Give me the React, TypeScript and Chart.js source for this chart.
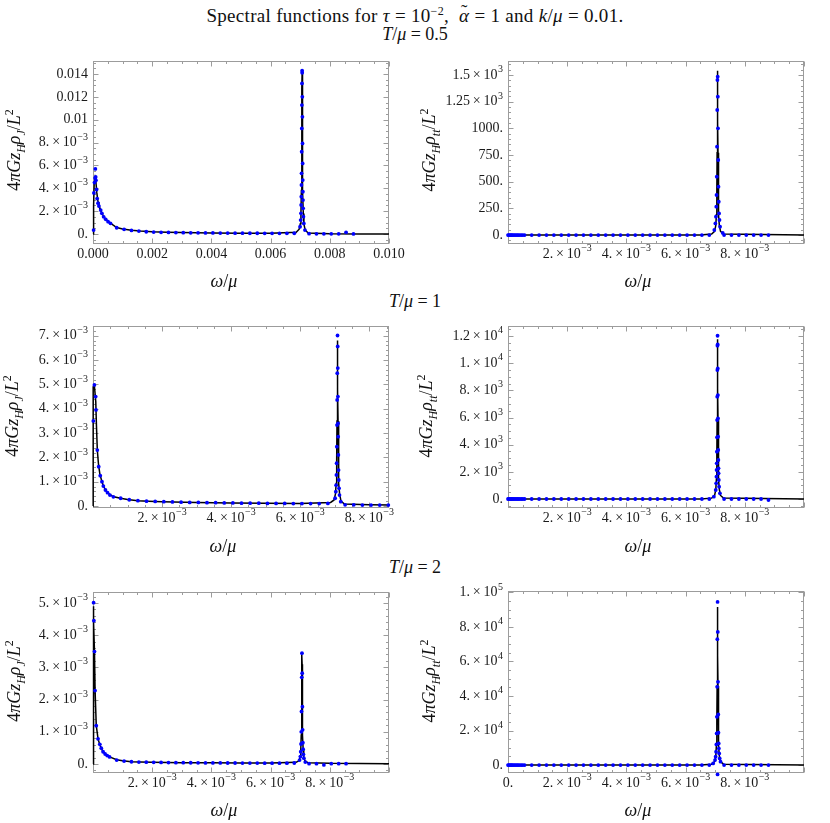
import React, { useEffect, useRef } from "react";
import { Chart, registerables } from "chart.js";

Chart.register(...registerables);

const SERIF = "'Liberation Serif', 'Times New Roman', Times, serif";

// ---------- shared frequency grids (omega / mu) ----------
const omegaMid = [0.0008, 0.00105, 0.0013, 0.00155, 0.0018, 0.00205, 0.0023, 0.00255, 0.0028, 0.00305, 0.0033, 0.00355, 0.0038, 0.00405, 0.0043, 0.00455, 0.0048, 0.00505, 0.0053, 0.00555, 0.0058, 0.00605, 0.0063, 0.00655, 0.0068];
const omegaHigh = [0.0073, 0.00755, 0.0078, 0.00805, 0.0083, 0.00855, 0.0088];
const omegaLowTT = [0, 0.00003, 0.00006, 0.00009, 0.00012, 0.00015, 0.00019, 0.00023, 0.00027, 0.00031, 0.00035, 0.0004, 0.00045, 0.0005, 0.00056];

// ---------- T/mu = 0.5, rho_J ----------
const j05LineX = [0, 0.00002, 0.00004, 0.00007, 0.0001, 0.00013, 0.00017, 0.0002, 0.00026, 0.0003, 0.0004, 0.0005, 0.0006, 0.0008, 0.001, 0.0013, 0.0016, 0.002, 0.0025, 0.003, 0.004, 0.005, 0.006, 0.006865, 0.006965, 0.007005, 0.007025, 0.00704, 0.00705, 0.007055, 0.00706, 0.007065, 0.00707, 0.007075, 0.00708, 0.00709, 0.007105, 0.007125, 0.007165, 0.007265, 0.008, 0.009, 0.01];
const j05LineY = [0, 0.0025, 0.0044, 0.0049, 0.0045, 0.0036, 0.0028, 0.0025, 0.0021, 0.0018, 0.0014, 0.0011, 0.00093, 0.00057, 0.00044, 0.00033, 0.00026, 0.0002, 0.00016, 0.00013, 0.0001, 0.00008, 0.00006, 0.00015, 0.00042, 0.00091, 0.0018, 0.0038, 0.0071, 0.0098, 0.0128, 0.0142, 0.0128, 0.0098, 0.0071, 0.0038, 0.0018, 0.00088, 0.00038, 0.0001, 0.00002, 0.00001, 0.00001];
const j05LowX = [0.00002, 0.00003, 0.00005, 0.00007, 0.00008, 0.00009, 0.0001, 0.00012, 0.00014, 0.00017, 0.0002, 0.00026, 0.0003, 0.00036, 0.00043, 0.00051, 0.00059];
const j05LowY = [0.00035, 0.0036, 0.0045, 0.0049, 0.0057, 0.005, 0.0047, 0.0039, 0.0031, 0.0027, 0.00245, 0.0021, 0.00181, 0.00151, 0.00129, 0.00108, 0.00094];
const j05MidY = [0.00055, 0.00041, 0.00032, 0.00026, 0.0002, 0.000175, 0.00015, 0.00014, 0.00013, 0.00012, 0.00011, 0.000105, 0.0001, 0.000095, 0.00009, 0.000085, 0.00008, 0.000075, 0.00007, 0.00007, 0.000065, 0.00006, 0.00006, 0.00006, 0.00007];
const j05PeakX = [0.007065, 0.0070665, 0.0070605, 0.0070715, 0.007057, 0.0070745, 0.007054, 0.0070785, 0.00705, 0.007082, 0.0070455, 0.0070865, 0.007042, 0.0070905, 0.0070375, 0.0070945, 0.0070325, 0.0070995, 0.007026, 0.0071085, 0.007016, 0.007122, 0.006996, 0.00716];
const j05PeakY = [0.01429, 0.01411, 0.01318, 0.01201, 0.01128, 0.01026, 0.00924, 0.00793, 0.0072, 0.00618, 0.00531, 0.00472, 0.00429, 0.0037, 0.00327, 0.00297, 0.00254, 0.00225, 0.00181, 0.00152, 0.00122, 0.00093, 0.00064, 0.00035];
const j05HighY = [0.00003, 0.00002, 0.00002, 0.00002, 0.00002, 0.00015, 0.00001];

// ---------- T/mu = 0.5, rho_tt ----------
const tt05LineX = [0, 0.0065, 0.00688, 0.00698, 0.00702, 0.00704, 0.007055, 0.007065, 0.00707, 0.007075, 0.00708, 0.007085, 0.00709, 0.007095, 0.007105, 0.00712, 0.00714, 0.00718, 0.00728, 0.01];
const tt05LineY = [0, 0, 9, 34, 90, 190, 408, 770, 1066, 1386, 1540, 1386, 1066, 770, 408, 190, 90, 34, 9, 0];
const tt05LowY = [0, 0, 0, 0, 0, 0, 0, 0, 0, 0, 0, 0, 0, 0, 0];
const tt05MidY = [0, 0, 0, 0, 0, 0, 0, 0, 0, 0, 0, 0, 0, 0, 0, 0, 0, 0, 0, 0, 0, 0, 0, 0, 0];
const tt05PeakX = [0.007084, 0.007075, 0.0070885, 0.007069, 0.0070945, 0.0070615, 0.007102, 0.007053, 0.007111, 0.007045, 0.00712, 0.0070365, 0.00713, 0.007025, 0.007145, 0.007005, 0.007165, 0.00697, 0.007255];
const tt05PeakY = [1484, 1453, 1297, 1172, 1000, 828, 703, 547, 453, 375, 312, 266, 203, 172, 141, 109, 78, 47, 20];
const tt05HighY = [0, 0, 0, 0, 0, 0, 0];

// ---------- T/mu = 1, rho_J ----------
const j1LineX = [0, 0.000005, 0.00004, 0.00008, 0.0001, 0.000125, 0.00016, 0.0002, 0.00026, 0.0003, 0.00036, 0.00042, 0.0005, 0.0006, 0.0008, 0.001, 0.0013, 0.0016, 0.002, 0.003, 0.004, 0.005, 0.006, 0.00688, 0.00698, 0.00702, 0.00704, 0.007055, 0.007065, 0.00707, 0.007075, 0.00708, 0.007085, 0.00709, 0.007095, 0.007105, 0.00712, 0.00714, 0.00718, 0.00728, 0.008, 0.0086];
const j1LineY = [0, 0.0049, 0.00495, 0.0043, 0.0033, 0.0023, 0.0017, 0.0013, 0.001, 0.00083, 0.00067, 0.00055, 0.00046, 0.00038, 0.00032, 0.00027, 0.00022, 0.0002, 0.00018, 0.00015, 0.00013, 0.00012, 0.00011, 0.00015, 0.00025, 0.0005, 0.00093, 0.0019, 0.0035, 0.0048, 0.0062, 0.0068, 0.0062, 0.0048, 0.0035, 0.0019, 0.00093, 0.0005, 0.0002, 0.00008, 0.00005, 0.00004];
const j1LowX = [0.00001, 0.00004, 0.000078, 0.000087, 0.000125, 0.000165, 0.00021, 0.00026, 0.0003, 0.00036, 0.00042, 0.00049, 0.00059];
const j1LowY = [0.0035, 0.00498, 0.0045, 0.00395, 0.0023, 0.00162, 0.00125, 0.001, 0.00082, 0.00066, 0.00055, 0.00045, 0.00038];
const j1MidY = [0.00032, 0.00026, 0.00022, 0.0002, 0.00019, 0.00018, 0.00017, 0.00016, 0.00015, 0.00015, 0.00014, 0.00014, 0.00013, 0.00013, 0.00012, 0.00012, 0.00012, 0.00011, 0.00011, 0.00011, 0.0001, 0.0001, 0.0001, 0.0001, 0.00011];
const j1PeakX = [0.00708, 0.007084, 0.0070875, 0.007072, 0.007091, 0.0070685, 0.0070955, 0.0070645, 0.007098, 0.0070595, 0.007103, 0.007054, 0.007109, 0.007048, 0.0071155, 0.00704, 0.007124, 0.0070305, 0.007137, 0.007011, 0.007173];
const j1PeakY = [0.00701, 0.00656, 0.00567, 0.00546, 0.0045, 0.00436, 0.0034, 0.00333, 0.00285, 0.00244, 0.0021, 0.00176, 0.00148, 0.00128, 0.00107, 0.00086, 0.00073, 0.00059, 0.00045, 0.00032, 0.00018];
const j1HighY = [0.00005, 0.00005, 0.00004, 0.00004, 0.00004, 0.00004];

// ---------- T/mu = 1, rho_tt ----------
const tt1LineX = [0, 0.0065, 0.00688, 0.00698, 0.00702, 0.00704, 0.007055, 0.007065, 0.00707, 0.007075, 0.00708, 0.007085, 0.00709, 0.007095, 0.007105, 0.00712, 0.00714, 0.00718, 0.00728, 0.01];
const tt1LineY = [0, 0, 65, 260, 690, 1450, 3110, 5880, 8140, 10580, 11754, 10580, 8140, 5880, 3110, 1450, 690, 260, 65, 0];
const tt1LowY = [0, 0, 0, 0, 0, 0, 0, 0, 0, 0, 0, 0, 0, 0, 0];
const tt1MidY = [0, 0, 0, 0, 0, 0, 0, 0, 0, 0, 0, 0, 0, 0, 0, 0, 0, 0, 0, 0, 0, 0, 0, 0, 0];
const tt1PeakX = [0.00708, 0.0070835, 0.007076, 0.0070875, 0.007072, 0.0070915, 0.0070685, 0.007095, 0.0070645, 0.007099, 0.0070605, 0.007103, 0.0070565, 0.007107, 0.0070515, 0.007111, 0.0070475, 0.007115, 0.0070425, 0.0071215, 0.007034, 0.0071325, 0.007018, 0.00716, 0.006955];
const tt1PeakY = [12020, 11382, 11284, 9616, 9493, 7653, 7531, 5936, 5814, 4587, 4538, 3606, 3483, 2870, 2625, 2257, 2134, 1889, 1644, 1398, 1153, 908, 662, 417, 172];
const tt1HighY = [0, 0, 0, 0, 0, 0, -74];

// ---------- T/mu = 2, rho_J ----------
const j2LineX = [0, 0.000005, 0.00002, 0.00003, 0.00005, 0.00007, 0.00011, 0.00017, 0.00023, 0.00028, 0.00034, 0.00041, 0.00048, 0.00056, 0.0008, 0.001, 0.0013, 0.0016, 0.002, 0.003, 0.004, 0.005, 0.006, 0.00686, 0.00696, 0.007, 0.00702, 0.007035, 0.007045, 0.00705, 0.007055, 0.00706, 0.007065, 0.00707, 0.007075, 0.007085, 0.0071, 0.00712, 0.00716, 0.00726, 0.008, 0.01];
const j2LineY = [0, 0.0049, 0.0049, 0.0044, 0.0035, 0.0023, 0.0012, 0.00078, 0.0006, 0.00049, 0.00038, 0.00031, 0.00026, 0.00022, 0.00013, 0.0001, 0.00007, 0.00006, 0.00005, 0.00004, 0.000035, 0.00003, 0.000028, 0.00005, 0.0001, 0.00022, 0.00045, 0.0009, 0.0017, 0.0024, 0.0031, 0.0034, 0.0031, 0.0024, 0.0017, 0.0009, 0.00045, 0.00022, 0.0001, 0.00004, 0.00002, 0.00001];
const j2LowX = [0.00002, 0.00003, 0.00005, 0.00007, 0.00011, 0.00017, 0.00023, 0.00028, 0.00034, 0.00041, 0.00048, 0.00056];
const j2LowY = [0.00501, 0.00445, 0.00349, 0.00228, 0.00119, 0.00078, 0.00061, 0.00049, 0.00038, 0.00031, 0.00026, 0.00022];
const j2MidY = [0.00012, 0.00009, 0.00007, 0.00006, 0.000055, 0.00005, 0.000047, 0.000044, 0.000042, 0.00004, 0.000038, 0.000036, 0.000034, 0.000033, 0.000032, 0.000031, 0.00003, 0.000029, 0.000028, 0.000027, 0.000026, 0.000026, 0.000025, 0.000025, 0.00003];
const j2PeakX = [0.00706, 0.007067, 0.007052, 0.0070745, 0.007044, 0.0070825, 0.0070365, 0.007091, 0.007028, 0.007098, 0.0070175, 0.0071085, 0.007005, 0.007124, 0.00698, 0.0071725];
const j2PeakY = [0.00344, 0.00282, 0.00269, 0.00178, 0.00163, 0.00106, 0.001, 0.00066, 0.00062, 0.00046, 0.00038, 0.0003, 0.00023, 0.00018, 0.00012, 0.00006];
const j2HighY = [0.00001, 0.00001, -0.00003, 0.00001, 0.00001, 0.00001];

// ---------- T/mu = 2, rho_tt ----------
const tt2LineX = [0, 0.0065, 0.00688, 0.00698, 0.00702, 0.00704, 0.007055, 0.007065, 0.00707, 0.007075, 0.00708, 0.007085, 0.00709, 0.007095, 0.007105, 0.00712, 0.00714, 0.00718, 0.00728, 0.01];
const tt2LineY = [0, 0, 510, 2000, 5350, 11300, 24200, 45800, 63400, 82400, 91560, 82400, 63400, 45800, 24200, 11300, 5350, 2000, 510, 0];
const tt2LowY = [0, 0, 0, 0, 0, 0, 0, 0, 0, 0, 0, 0, 0, 0, 0];
const tt2MidY = [0, 0, 0, 0, 0, 0, 0, 0, 0, 0, 0, 0, 0, 0, 0, 0, 0, 0, 0, 0, 0, 0, 0, 0, 0];
const tt2PeakX = [0.00708, 0.007087, 0.007072, 0.0070945, 0.0070645, 0.0071025, 0.007057, 0.00711, 0.0070495, 0.0071185, 0.0070405, 0.0071235, 0.00703, 0.007135, 0.007015, 0.0071525, 0.006995, 0.00718, 0.00693, 0.00708];
const tt2PeakY = [94470, 77120, 72880, 48200, 45310, 29300, 27960, 18700, 18320, 12530, 11950, 9640, 7710, 6750, 4820, 3860, 2890, 1930, 960, -5400];
const tt2HighY = [0, 0, 0, 0, 0, 0, 0];

// ---------- tick values and labels ("^" marks the exponent) ----------
const xTicksFull = [0, 0.002, 0.004, 0.006, 0.008, 0.01];
const xLabelsDecimal = ["0.000", "0.002", "0.004", "0.006", "0.008", "0.010"];
const xLabelsSci = ["", "2.×10^−3", "4.×10^−3", "6.×10^−3", "8.×10^−3", ""];
const xLabelsSciZero = ["0.", "2.×10^−3", "4.×10^−3", "6.×10^−3", "8.×10^−3", ""];
const xTicksShort = [0, 0.002, 0.004, 0.006, 0.008];
const xLabelsShort = ["", "2.×10^−3", "4.×10^−3", "6.×10^−3", "8.×10^−3"];

const y1Ticks = [0, 0.002, 0.004, 0.006, 0.008, 0.01, 0.012, 0.014];
const y1Labels = ["0.", "2.×10^−3", "4.×10^−3", "6.×10^−3", "8.×10^−3", "0.01", "0.012", "0.014"];
const y2Ticks = [0, 250, 500, 750, 1000, 1250, 1500];
const y2Labels = ["0.", "250.", "500.", "750.", "1000.", "1.25×10^3", "1.5×10^3"];
const y3Ticks = [0, 0.001, 0.002, 0.003, 0.004, 0.005, 0.006, 0.007];
const y3Labels = ["0.", "1.×10^−3", "2.×10^−3", "3.×10^−3", "4.×10^−3", "5.×10^−3", "6.×10^−3", "7.×10^−3"];
const y4Ticks = [0, 2000, 4000, 6000, 8000, 10000, 12000];
const y4Labels = ["0.", "2.×10^3", "4.×10^3", "6.×10^3", "8.×10^3", "1.×10^4", "1.2×10^4"];
const y5Ticks = [0, 0.001, 0.002, 0.003, 0.004, 0.005];
const y5Labels = ["0.", "1.×10^−3", "2.×10^−3", "3.×10^−3", "4.×10^−3", "5.×10^−3"];
const y6Ticks = [0, 20000, 40000, 60000, 80000, 100000];
const y6Labels = ["0.", "2.×10^4", "4.×10^4", "6.×10^4", "8.×10^4", "1.×10^5"];

type Pt = { x: number; y: number };
function zip(xs: number[], ys: number[]): Pt[] {
  const n = Math.min(xs.length, ys.length);
  const out: Pt[] = [];
  for (let i = 0; i < n; i++) out.push({ x: xs[i], y: ys[i] });
  return out;
}

type Spec = {
  col: number;
  plot: { l: number; t: number; r: number; b: number };
  xMin: number; xMax: number; yMin: number; yMax: number;
  xTicks: number[]; xLabels: string[]; xMinor: number;
  yTicks: number[]; yLabels: string[]; yMinor: number;
  line: Pt[]; dots: Pt[];
};

const specs: Spec[] = [
  {
    col: 0, plot: { l: 93, t: 61, r: 389, b: 244 },
    xMin: 0, xMax: 0.01, yMin: -0.00087, yMax: 0.01514,
    xTicks: xTicksFull, xLabels: xLabelsDecimal, xMinor: 0.0005,
    yTicks: y1Ticks, yLabels: y1Labels, yMinor: 0.0005,
    line: zip(j05LineX, j05LineY),
    dots: [...zip(j05LowX, j05LowY), ...zip(omegaMid, j05MidY), ...zip(j05PeakX, j05PeakY), ...zip(omegaHigh, j05HighY)],
  },
  {
    col: 415, plot: { l: 508, t: 61, r: 804, b: 244 },
    xMin: 0, xMax: 0.01, yMin: -84, yMax: 1631,
    xTicks: xTicksFull, xLabels: xLabelsSci, xMinor: 0.0005,
    yTicks: y2Ticks, yLabels: y2Labels, yMinor: 50,
    line: zip(tt05LineX, tt05LineY),
    dots: [...zip(omegaLowTT, tt05LowY), ...zip(omegaMid, tt05MidY), ...zip(tt05PeakX, tt05PeakY), ...zip(omegaHigh, tt05HighY)],
  },
  {
    col: 0, plot: { l: 93, t: 326, r: 389, b: 508 },
    xMin: 0, xMax: 0.00857, yMin: -0.00008, yMax: 0.0074,
    xTicks: xTicksShort, xLabels: xLabelsShort, xMinor: 0.0005,
    yTicks: y3Ticks, yLabels: y3Labels, yMinor: 0.0002,
    line: zip(j1LineX, j1LineY),
    dots: [...zip(j1LowX, j1LowY), ...zip(omegaMid, j1MidY), ...zip(j1PeakX, j1PeakY), ...zip(omegaHigh, j1HighY)],
  },
  {
    col: 415, plot: { l: 508, t: 326, r: 804, b: 508 },
    xMin: 0, xMax: 0.01, yMin: -662, yMax: 12736,
    xTicks: xTicksFull, xLabels: xLabelsSci, xMinor: 0.0005,
    yTicks: y4Ticks, yLabels: y4Labels, yMinor: 500,
    line: zip(tt1LineX, tt1LineY),
    dots: [...zip(omegaLowTT, tt1LowY), ...zip(omegaMid, tt1MidY), ...zip(tt1PeakX, tt1PeakY), ...zip(omegaHigh, tt1HighY)],
  },
  {
    col: 0, plot: { l: 93, t: 592, r: 389, b: 773 },
    xMin: 0, xMax: 0.01, yMin: -0.00028, yMax: 0.00534,
    xTicks: xTicksFull, xLabels: xLabelsSci, xMinor: 0.0005,
    yTicks: y5Ticks, yLabels: y5Labels, yMinor: 0.0002,
    line: zip(j2LineX, j2LineY),
    dots: [...zip(j2LowX, j2LowY), ...zip(omegaMid, j2MidY), ...zip(j2PeakX, j2PeakY), ...zip(omegaHigh, j2HighY)],
  },
  {
    col: 415, plot: { l: 508, t: 591, r: 804, b: 773 },
    xMin: 0, xMax: 0.01, yMin: -4600, yMax: 100800,
    xTicks: xTicksFull, xLabels: xLabelsSciZero, xMinor: 0.0005,
    yTicks: y6Ticks, yLabels: y6Labels, yMinor: 5000,
    line: zip(tt2LineX, tt2LineY),
    dots: [...zip(omegaLowTT, tt2LowY), ...zip(omegaMid, tt2MidY), ...zip(tt2PeakX, tt2PeakY), ...zip(omegaHigh, tt2HighY)],
  },
];

const PAD_TOP = 15;
const PAD_BOTTOM = 30;
const CANVAS_W = 415;
const TICK_FONT = `14px ${SERIF}`;
const EXP_FONT = `10px ${SERIF}`;

function makeFramePlugin(spec: Spec) {
  return {
    id: "mmaFrame",
    beforeDatasetsDraw(chart: any) {
      const { ctx, chartArea: a } = chart;
      const xs = chart.scales.x;
      const ys = chart.scales.y;
      ctx.save();
      ctx.strokeStyle = "#9c9c9c";
      ctx.lineWidth = 1;
      const L = Math.round(a.left) + 0.5;
      const R = Math.round(a.right) - 0.5;
      const T = Math.round(a.top) + 0.5;
      const B = Math.round(a.bottom) - 0.5;
      ctx.strokeRect(L, T, R - L, B - T);
      const seg = (x1: number, y1: number, x2: number, y2: number) => {
        ctx.beginPath();
        ctx.moveTo(x1, y1);
        ctx.lineTo(x2, y2);
        ctx.stroke();
      };
      const minors = (min: number, max: number, step: number, majors: number[]) => {
        const res: number[] = [];
        const start = Math.ceil(min / step - 1e-9);
        for (let k = start; k * step <= max + step * 1e-6; k++) {
          const v = k * step;
          if (!majors.some((m) => Math.abs(m - v) < step * 1e-3)) res.push(v);
        }
        return res;
      };
      const drawX = (v: number, len: number) => {
        const p = Math.round(xs.getPixelForValue(v)) + 0.5;
        seg(p, B, p, B - len);
        seg(p, T, p, T + len);
      };
      const drawY = (v: number, len: number) => {
        const p = Math.round(ys.getPixelForValue(v)) + 0.5;
        seg(L, p, L + len, p);
        seg(R, p, R - len, p);
      };
      spec.xTicks.forEach((v) => drawX(v, 5));
      minors(spec.xMin, spec.xMax, spec.xMinor, spec.xTicks).forEach((v) => drawX(v, 2.5));
      spec.yTicks.forEach((v) => drawY(v, 5));
      minors(spec.yMin, spec.yMax, spec.yMinor, spec.yTicks).forEach((v) => drawY(v, 2.5));
      ctx.restore();
    },
    afterDraw(chart: any) {
      const { ctx, chartArea: a } = chart;
      const xs = chart.scales.x;
      const ys = chart.scales.y;
      ctx.save();
      ctx.fillStyle = "#1a1a1a";
      ctx.textBaseline = "middle";
      ctx.textAlign = "left";
      const drawLabel = (label: string, x: number, y: number, align: "right" | "center") => {
        if (!label) return;
        const parts = label.split("^");
        const mant = parts[0].replace("×", "\u2009×\u2009");
        const expo = parts[1] || "";
        ctx.font = TICK_FONT;
        const wm = ctx.measureText(mant).width;
        let we = 0;
        if (expo) {
          ctx.font = EXP_FONT;
          we = ctx.measureText(expo).width + 0.5;
        }
        const total = wm + we;
        const x0 = align === "right" ? x - total : x - total / 2;
        ctx.font = TICK_FONT;
        ctx.fillText(mant, x0, y);
        if (expo) {
          ctx.font = EXP_FONT;
          ctx.fillText(expo, x0 + wm + 0.5, y - 5.5);
        }
      };
      spec.yTicks.forEach((v, i) => drawLabel(spec.yLabels[i], a.left - 5, ys.getPixelForValue(v), "right"));
      spec.xTicks.forEach((v, i) => drawLabel(spec.xLabels[i], xs.getPixelForValue(v), a.bottom + 10, "center"));
      ctx.restore();
    },
  };
}

function PanelChart({ spec }: { spec: Spec }) {
  const ref = useRef<HTMLCanvasElement>(null);
  const top = spec.plot.t - PAD_TOP;
  const height = spec.plot.b + PAD_BOTTOM - top;
  const leftW = spec.plot.l - spec.col;

  useEffect(() => {
    if (!ref.current) return;
    const chart = new Chart(ref.current, {
      type: "scatter",
      data: {
        datasets: [
          {
            data: spec.dots,
            showLine: false,
            pointRadius: 1.9,
            pointBorderWidth: 0,
            pointBackgroundColor: "#0000ff",
            pointBorderColor: "#0000ff",
            clip: 4,
            order: 0,
          } as any,
          {
            data: spec.line,
            showLine: true,
            pointRadius: 0,
            borderColor: "#000000",
            borderWidth: 1.5,
            tension: 0,
            fill: false,
            clip: 2,
            order: 1,
          } as any,
        ],
      },
      options: {
        responsive: false,
        animation: false,
        devicePixelRatio: 1,
        events: [],
        layout: {
          padding: {
            left: 0,
            right: spec.col + CANVAS_W - spec.plot.r,
            top: PAD_TOP,
            bottom: 0,
          },
        },
        plugins: {
          legend: { display: false },
          tooltip: { enabled: false },
          title: { display: false },
        },
        scales: {
          x: {
            type: "linear",
            min: spec.xMin,
            max: spec.xMax,
            grid: { display: false, drawTicks: false },
            border: { display: false },
            ticks: { display: false },
            afterBuildTicks: (s: any) => {
              s.ticks = spec.xTicks.map((v) => ({ value: v }));
            },
            afterFit: (s: any) => {
              s.height = PAD_BOTTOM;
            },
          },
          y: {
            type: "linear",
            min: spec.yMin,
            max: spec.yMax,
            grid: { display: false, drawTicks: false },
            border: { display: false },
            ticks: { display: false },
            afterBuildTicks: (s: any) => {
              s.ticks = spec.yTicks.map((v) => ({ value: v }));
            },
            afterFit: (s: any) => {
              s.width = leftW;
            },
          },
        },
      } as any,
      plugins: [makeFramePlugin(spec) as any],
    });
    return () => chart.destroy();
  }, [spec]);

  return (
    <canvas
      ref={ref}
      width={CANVAS_W}
      height={height}
      style={{ position: "absolute", left: spec.col, top, width: CANVAS_W, height }}
    />
  );
}

function YTitle({ cx, cy, kind }: { cx: number; cy: number; kind: "J" | "tt" }) {
  return (
    <div
      style={{
        position: "absolute",
        left: cx,
        top: cy,
        transform: "translate(-50%, -50%) rotate(-90deg)",
        whiteSpace: "nowrap",
        fontSize: 18,
        lineHeight: "22px",
      }}
    >
      4<i>πGz</i>
      <sub style={{ fontSize: 12 }}><i>H</i></sub>
      <i>ρ</i>
      <sub style={{ fontSize: 12 }}><i>{kind}</i></sub>/<i>L</i>
      <sup style={{ fontSize: 12 }}>2</sup>
    </div>
  );
}

function XTitle({ cx, cy }: { cx: number; cy: number }) {
  return (
    <div
      style={{
        position: "absolute",
        left: cx,
        top: cy,
        transform: "translate(-50%, -50%)",
        whiteSpace: "nowrap",
        fontSize: 18,
        lineHeight: "22px",
      }}
    >
      <i>ω</i>/<i>μ</i>
    </div>
  );
}

function Heading({ cy, children, size = 18, spacing = 0 }: { cy: number; children: React.ReactNode; size?: number; spacing?: number }) {
  return (
    <div
      style={{
        position: "absolute",
        left: 0,
        width: 830,
        top: cy - 11,
        textAlign: "center",
        fontSize: size,
        lineHeight: "22px",
        letterSpacing: spacing,
        whiteSpace: "nowrap",
      }}
    >
      {children}
    </div>
  );
}

function AlphaTilde() {
  return (
    <span style={{ position: "relative", display: "inline-block" }}>
      <i>α</i>
      <span style={{ position: "absolute", left: "0.1em", top: "-0.22em" }}>˜</span>
    </span>
  );
}

export default function App() {
  return (
    <div
      style={{
        position: "absolute",
        left: 0,
        top: 0,
        width: 830,
        height: 823,
        background: "#ffffff",
        fontFamily: SERIF,
        color: "#111",
        overflow: "hidden",
      }}
    >
      <Heading cy={11} size={19} spacing={0.3}>
        Spectral functions for <i>τ</i> = 10<sup style={{ fontSize: 12 }}>−2</sup>,&nbsp; <AlphaTilde /> = 1 and <i>k</i>/<i>μ</i> = 0.01.
      </Heading>
      <Heading cy={34}>
        <i>T</i>/<i>μ</i> = 0.5
      </Heading>
      <Heading cy={301}>
        <i>T</i>/<i>μ</i> = 1
      </Heading>
      <Heading cy={567}>
        <i>T</i>/<i>μ</i> = 2
      </Heading>

      {specs.map((s, i) => (
        <PanelChart key={i} spec={s} />
      ))}

      <YTitle cx={15} cy={150} kind="J" />
      <YTitle cx={430} cy={150} kind="tt" />
      <YTitle cx={13} cy={416} kind="J" />
      <YTitle cx={427} cy={416} kind="tt" />
      <YTitle cx={15} cy={681} kind="J" />
      <YTitle cx={430} cy={681} kind="tt" />

      <XTitle cx={224} cy={281} />
      <XTitle cx={638} cy={281} />
      <XTitle cx={223} cy={546} />
      <XTitle cx={638} cy={546} />
      <XTitle cx={224} cy={810} />
      <XTitle cx={638} cy={810} />
    </div>
  );
}
